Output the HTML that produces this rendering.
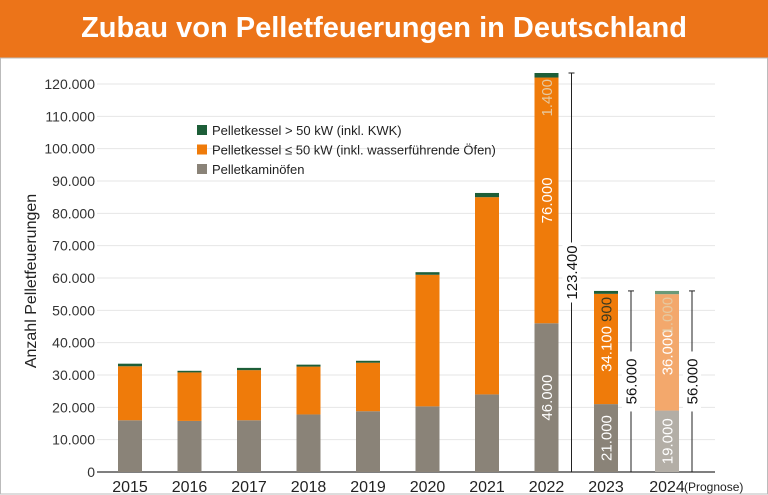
<!DOCTYPE html>
<html><head><meta charset="utf-8"><style>
body{margin:0;width:768px;height:495px;overflow:hidden;background:#fff;font-family:"Liberation Sans",sans-serif}
#title{position:absolute;left:0;top:0;width:768px;height:58px;background:#ec7419;color:#fff;font-weight:bold;font-size:29px;text-align:center;line-height:56px}
svg{position:absolute;left:0;top:0}
</style></head><body>
<div id="title">Zubau von Pelletfeuerungen in Deutschland</div>
<svg id="c" width="768" height="495"></svg>
<script>
const years=["2015","2016","2017","2018","2019","2020","2021","2022","2023","2024"];
const kamin=[16000,15800,16000,17800,18800,20300,24000,46000,21000,19000];
const kessel=[16700,15000,15500,14800,15000,40700,61000,76000,34100,36000];
const gross=[800,500,700,600,600,800,1300,1400,900,1000];
const yTicks=[0,10000,20000,30000,40000,50000,60000,70000,80000,90000,100000,110000,120000];
const labeled={7:["46.000","76.000","1.400","123.400"],8:["21.000","34.100","900","56.000"],9:["19.000","36.000","1.000","56.000"]};
const NS="http://www.w3.org/2000/svg";
const svg=document.getElementById('c');
function y(v){return 472-v*(388/120000);}
function xc(i){return i<9?130+i*59.5:667;}
function el(t,a,p){const e=document.createElementNS(NS,t);for(const k in a)e.setAttribute(k,a[k]);(p||svg).appendChild(e);return e;}
const fmt=v=>v===0?"0":(v/1000).toFixed(0)+".000";
// frame
const fr=el('rect',{x:0.5,y:58,width:767,height:436,fill:'none',stroke:'#bbb'});


yTicks.forEach(v=>{
 const g=el('line',{x1:97,x2:715,y1:y(v),y2:y(v),stroke:v===0?'#333':'#e6e6e6','stroke-width':v===0?1.2:1});
 
 
 const t=el('text',{x:95,y:y(v)+5,'text-anchor':'end','font-size':14,fill:'#333'});
 t.textContent=fmt(v);
 
 
});
const yt=el('text',{transform:'translate(36,281) rotate(-90)','text-anchor':'middle','font-size':16,fill:'#222'});
yt.textContent='Anzahl Pelletfeuerungen';


const W=24;
years.forEach((yr,i)=>{
 const f=i===9;
 const cols=f?['#b3aea6','#f3a86c','#6a9a78']:['#8a8378','#ef7b0a','#1d5e38'];
 const vals=[kamin[i],kessel[i],gross[i]];
 let base=0;
 const names=['bar-kaminoefen-','bar-kessel-small-','bar-kessel-large-'];
 vals.forEach((v,k)=>{
  const r=el('rect',{x:xc(i)-W/2,y:y(base+v),width:W,height:y(base)-y(base+v),fill:cols[k]});
  
  
  base+=v;
 });
 const t=el('text',{x:xc(i),y:492,'text-anchor':'middle','font-size':16,fill:'#222'});
 t.textContent=yr;
 
 
 if(labeled[i]){
  const L=labeled[i];
  const centers=[kamin[i]/2,kamin[i]+kessel[i]/2];
  const top=kamin[i]+kessel[i]+gross[i];
  centers.forEach((c,k)=>{
   const tt=el('text',{transform:`translate(${xc(i)+5.5},${y(c)}) rotate(-90)`,'text-anchor':'middle','font-size':15,fill:'#fff'});
   tt.textContent=L[k];
   
   
  });
  const tg=el('text',{transform:`translate(${xc(i)+5.5},${y(top)+6}) rotate(-90)`,'text-anchor':'end','font-size':15,fill:i===8?'#3a3a20':'#e6c9a0'});
  tg.textContent=L[2];
  
  
  const bx=xc(i)+25;
  const bl=el('line',{x1:bx,x2:bx,y1:y(top),y2:472,stroke:'#222','stroke-width':1});
  
  
  el('line',{x1:bx-3,x2:bx+3,y1:y(top),y2:y(top),stroke:'#222'});
  const ty=(y(top)+472)/2;
  el('rect',{x:bx-9,y:ty-30,width:18,height:60,fill:'#fff'});
  const tl=el('text',{transform:`translate(${bx+5.5},${ty}) rotate(-90)`,'text-anchor':'middle','font-size':15,fill:'#111'});
  tl.textContent=L[3];
  
  
 }
});
const pg=el('text',{x:684,y:491,'font-size':12,fill:'#222'});
pg.textContent='(Prognose)';


const leg=[['#1d5e38','Pelletkessel > 50 kW (inkl. KWK)'],['#ef7b0a','Pelletkessel ≤ 50 kW (inkl. wasserführende Öfen)'],['#8a8378','Pelletkaminöfen']];
leg.forEach((l,k)=>{
 const yy=130+k*19.5;
 const s=el('rect',{x:197,y:yy-5,width:10,height:10,fill:l[0]});
 
 
 const t=el('text',{x:212,y:yy+5,'font-size':13,fill:'#222'});
 t.textContent=l[1];
 
 
});
</script>
</body></html>
